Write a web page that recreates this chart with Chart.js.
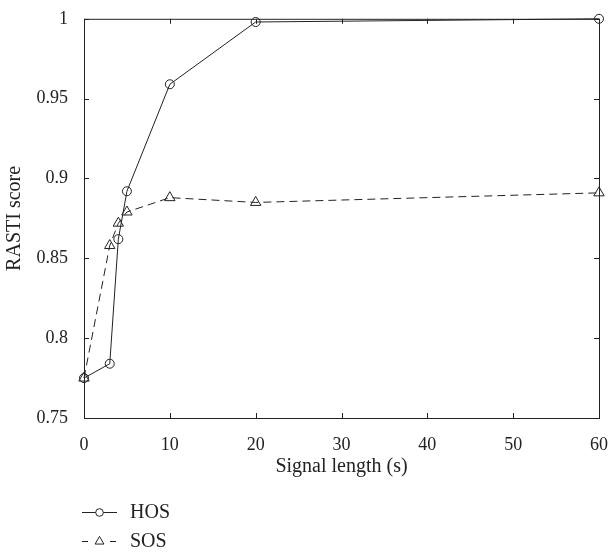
<!DOCTYPE html>
<html>
<head>
<meta charset="utf-8">
<script src="https://cdn.jsdelivr.net/npm/chart.js@4.4.1/dist/chart.umd.min.js"></script>
<style>
  html, body { margin: 0; padding: 0; background: #fff; }
  canvas { display: block; }
</style>
</head>
<body>
<canvas id="chart" width="616" height="554"></canvas>
<script>
// values
const signalLength = [0, 3, 4, 5, 10, 20, 60];
const hosScore = [0.775, 0.784, 0.862, 0.892, 0.959, 0.998, 1.0];
const sosScore = [0.775, 0.858, 0.872, 0.879, 0.888, 0.885, 0.891];
const seriesNames = ['HOS', 'SOS'];

const ink = '#222';
const fontFamily = '"Liberation Serif", "DejaVu Serif", serif';

const toPoints = (ys) => signalLength.map((x, i) => ({ x: x, y: ys[i] }));

// box round the plot with inward tick marks on every side
const boxPlugin = {
  id: 'box',
  afterDatasetsDraw(chart) {
    const { ctx, chartArea: a, scales } = chart;
    ctx.save();
    ctx.strokeStyle = ink;
    ctx.lineWidth = 1;
    ctx.strokeRect(a.left + 0.5, a.top + 0.5, a.right - a.left, a.bottom - a.top);
    const len = 5;
    ctx.beginPath();
    scales.x.ticks.forEach(t => {
      const px = Math.round(scales.x.getPixelForValue(t.value)) + 0.5;
      ctx.moveTo(px, a.bottom); ctx.lineTo(px, a.bottom - len);
      ctx.moveTo(px, a.top); ctx.lineTo(px, a.top + len);
    });
    scales.y.ticks.forEach(t => {
      const py = Math.round(scales.y.getPixelForValue(t.value)) + 0.5;
      ctx.moveTo(a.left, py); ctx.lineTo(a.left + len, py);
      ctx.moveTo(a.right, py); ctx.lineTo(a.right - len, py);
    });
    ctx.stroke();
    ctx.restore();
  }
};

// legend stacked under the axis title, line + marker sample
const legendPlugin = {
  id: 'stackLegend',
  afterDraw(chart) {
    const { ctx } = chart;
    ctx.save();
    chart.data.datasets.forEach((ds, i) => {
      const y = 512 + i * 29;
      ctx.strokeStyle = ink;
      ctx.lineWidth = 1;
      // solid sample runs through the marker, dashed one is two short dashes
      ctx.setLineDash(ds.borderDash ? [6, 22] : []);
      ctx.beginPath();
      ctx.moveTo(82, y + 0.5);
      ctx.lineTo(117, y + 0.5);
      ctx.stroke();
      ctx.setLineDash([]);
      ctx.fillStyle = '#fff';
      Chart.helpers.drawPoint(ctx, {
        pointStyle: ds.pointStyle, radius: ds.pointRadius * 0.85, rotation: 0, borderWidth: 1
      }, 99.5, y + 0.5);
      ctx.fillStyle = ink;
      ctx.font = '20px ' + fontFamily;
      ctx.textBaseline = 'middle';
      ctx.fillText(ds.label, 130, y + 1);
    });
    ctx.restore();
  }
};

new Chart(document.getElementById('chart'), {
  type: 'line',
  data: {
    datasets: [
      {
        label: seriesNames[0],
        data: toPoints(hosScore),
        borderColor: ink,
        borderWidth: 1,
        pointStyle: 'circle',
        pointRadius: 4.5,
        pointBorderColor: ink,
        pointBackgroundColor: 'rgba(0,0,0,0)',
        pointBorderWidth: 1,
        clip: false
      },
      {
        label: seriesNames[1],
        data: toPoints(sosScore),
        borderColor: ink,
        borderWidth: 1,
        borderDash: [8, 5],
        pointStyle: 'triangle',
        pointRadius: 6,
        pointBorderColor: ink,
        pointBackgroundColor: 'rgba(0,0,0,0)',
        pointBorderWidth: 1,
        clip: false
      }
    ]
  },
  options: {
    responsive: false,
    animation: false,
    layout: { padding: { top: 6, right: 10, left: 0, bottom: 0 } },
    plugins: { legend: { display: false }, tooltip: { enabled: false } },
    scales: {
      x: {
        type: 'linear',
        min: 0,
        max: 60,
        grid: { display: false },
        border: { display: false },
        ticks: { stepSize: 10, padding: 8, color: ink, maxRotation: 0, font: { family: fontFamily, size: 18 } },
        title: {
          display: true, text: 'Signal length (s)', color: ink,
          font: { family: fontFamily, size: 20 }, padding: { top: 4, bottom: 75 }
        },
        afterFit(scale) { scale.height = 136; }
      },
      y: {
        min: 0.75,
        max: 1,
        grid: { display: false },
        border: { display: false },
        ticks: {
          stepSize: 0.05, padding: 8, color: ink, font: { family: fontFamily, size: 18 },
          callback: (v) => String(+v.toFixed(2))
        },
        title: {
          display: true, text: 'RASTI score', color: ink,
          font: { family: fontFamily, size: 20 }, padding: { top: 3, bottom: 0 }
        },
        afterFit(scale) { scale.width = 84; }
      }
    }
  },
  plugins: [boxPlugin, legendPlugin]
});
</script>
</body>
</html>
